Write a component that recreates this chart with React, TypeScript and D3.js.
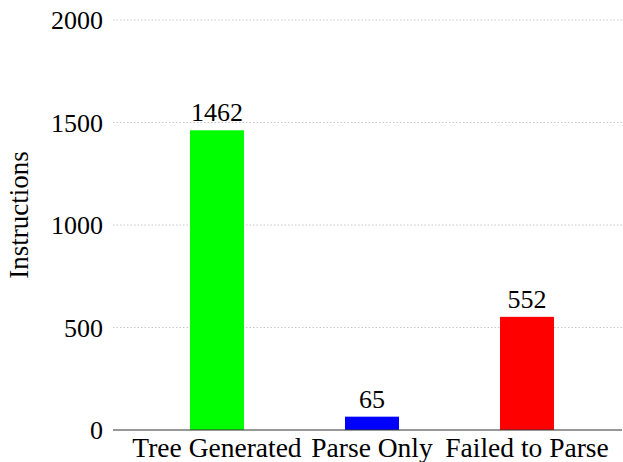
import React from 'react';
import * as d3 from 'd3';

const categories = ['Tree Generated', 'Parse Only', 'Failed to Parse'];
const values = [1462, 65, 552];
const barColors = ['#00ff00', '#0000ff', '#ff0000'];
const yTicks = [0, 500, 1000, 1500, 2000];

const W = 623;
const H = 462;
const font = 'Liberation Serif, serif';

const App = () => {
  const left = 113;
  const right = 622;
  const top = 20;
  const bottom = 430;
  const barWidth = 54;

  // category centres
  const x = d3.scalePoint<string>().domain(categories).range([217, 527]);
  const y = d3.scaleLinear().domain([0, 2000]).range([bottom, top]);

  return (
    <svg width={W} height={H} style={{ position: 'absolute', left: 0, top: 0, background: '#fff' }}>
      {/* grid */}
      {yTicks.filter((t) => t > 0).map((t) => (
        <line key={'g' + t} x1={left} x2={right} y1={y(t)} y2={y(t)}
          stroke="#c8c8c8" strokeWidth={1} strokeDasharray="1.5,2" />
      ))}

      {/* bars */}
      {values.map((v, i) => (
        <rect key={categories[i]} x={(x(categories[i]) as number) - barWidth / 2} y={y(v)}
          width={barWidth} height={y(0) - y(v)} fill={barColors[i]} />
      ))}

      {/* value labels */}
      {values.map((v, i) => (
        <text key={'v' + i} x={x(categories[i]) as number} y={y(v) - 9} textAnchor="middle"
          style={{ fontFamily: font, fontSize: 26 }} fill="#000">{v}</text>
      ))}

      {/* x axis */}
      <line x1={left} x2={right} y1={bottom} y2={bottom} stroke="#333" strokeWidth={1.2} />

      {/* y tick labels */}
      {yTicks.map((t) => (
        <text key={'t' + t} x={103} y={y(t)} dy="0.35em" textAnchor="end"
          style={{ fontFamily: font, fontSize: 26 }} fill="#000">{t}</text>
      ))}

      {/* x labels */}
      {categories.map((c) => (
        <text key={'x' + c} x={x(c) as number} y={457} textAnchor="middle"
          style={{ fontFamily: font, fontSize: 27.5 }} fill="#000">{c}</text>
      ))}

      {/* y axis title */}
      <text transform={`translate(28, ${(top + bottom) / 2 - 10}) rotate(-90)`} textAnchor="middle"
        style={{ fontFamily: font, fontSize: 27 }} fill="#000">Instructions</text>
    </svg>
  );
};

export default App;
